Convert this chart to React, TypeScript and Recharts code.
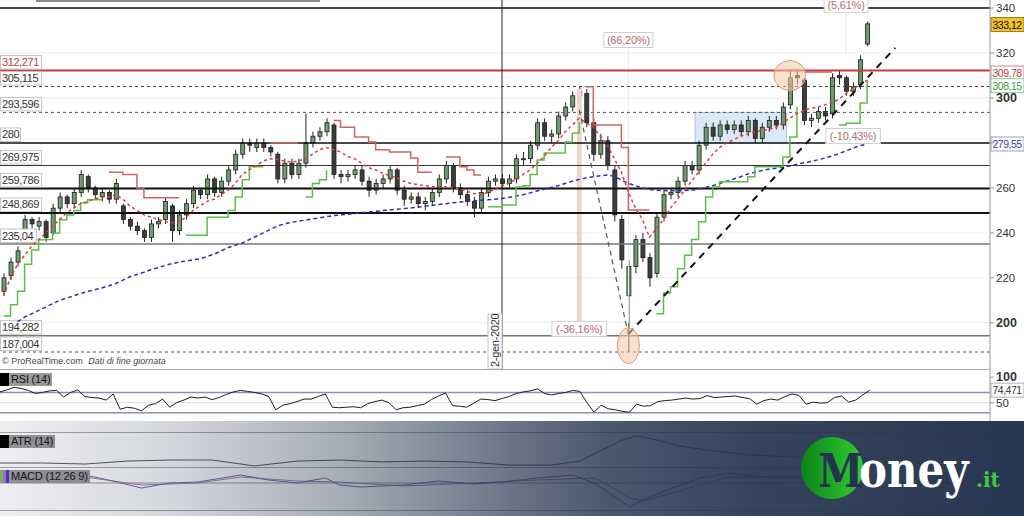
import React from 'react';
import {
  ComposedChart,
  LineChart,
  Line,
  Bar,
  XAxis,
  YAxis,
  CartesianGrid,
  ReferenceLine,
  ReferenceArea,
  ReferenceDot,
} from 'recharts';

const FONT = "'Liberation Sans', Arial, sans-serif";
const N = null;

// ---------- price data (daily-ish candles, compressed) ----------
const openP = [
  214, 221, 227, 240, 246, 243, 245, 240, 251, 256,
  253, 258, 265, 260, 256, 258, 255, 252, 246, 243,
  241, 238, 244, 246, 252, 241, 248, 253, 259, 257,
  264, 258, 263, 268, 275, 280, 278, 280, 278, 275,
  264, 271, 266, 271, 280, 283, 285, 288, 266, 265,
  266, 268, 263, 259, 262, 264, 268, 259, 255, 256,
  253, 254, 258, 264, 270, 260, 257, 254, 251, 258,
  263, 264, 262, 264, 273, 273, 279, 289, 283, 284,
  292, 296, 301, 302, 289, 275, 281, 268, 246, 212,
  225, 237, 229, 222, 247, 257, 258, 263, 270, 268,
  279, 287, 283, 288, 286, 288, 285, 290, 282, 287,
  290, 288, 297, 310, 308, 290, 291, 294, 293, 310,
  309, 303, 306, 324,
];
const closeP = [
  220, 227, 232, 246, 244, 245, 238, 251, 256, 253,
  258, 266, 260, 257, 258, 255, 262, 246, 243, 241,
  238, 244, 245, 254, 241, 248, 253, 259, 257, 264,
  258, 263, 268, 275, 280, 279, 280, 278, 276, 264,
  271, 266, 271, 280, 283, 285, 289, 266, 265, 266,
  268, 263, 259, 262, 264, 268, 259, 255, 256, 253,
  254, 258, 264, 270, 260, 257, 254, 251, 258, 263,
  264, 262, 264, 273, 273, 279, 289, 283, 284, 292,
  296, 301, 303, 289, 275, 281, 270, 248, 228, 225,
  237, 229, 220, 247, 257, 258, 263, 270, 268, 279,
  287, 283, 288, 286, 288, 285, 290, 282, 287, 290,
  288, 296, 309, 309, 290, 291, 294, 292, 309, 309,
  303, 305, 317, 333,
];
const highP = [
  222, 229, 234, 248, 247, 247, 246, 253, 258, 257,
  260, 268, 266, 261, 260, 259, 264, 253, 247, 245,
  242, 246, 247, 256, 253, 250, 255, 261, 260, 266,
  265, 265, 270, 277, 282, 282, 282, 282, 279, 276,
  273, 273, 273, 293, 285, 287, 291, 289, 268, 268,
  270, 270, 265, 264, 266, 270, 269, 261, 258, 258,
  256, 260, 266, 272, 271, 262, 259, 256, 260, 265,
  266, 266, 266, 275, 276, 281, 291, 291, 286, 294,
  298, 303, 305, 304, 291, 284, 283, 270, 248, 228,
  239, 240, 231, 249, 259, 260, 265, 272, 272, 281,
  289, 289, 290, 290, 290, 290, 292, 291, 289, 292,
  292, 298, 312, 312, 309, 293, 296, 296, 311, 312,
  310, 307, 319, 334,
];
const lowP = [
  212, 219, 225, 238, 242, 241, 236, 239, 249, 251,
  251, 256, 258, 255, 254, 253, 253, 244, 241, 239,
  236, 236, 242, 244, 236, 239, 246, 251, 255, 255,
  256, 256, 261, 266, 273, 276, 276, 276, 274, 262,
  262, 264, 264, 269, 278, 281, 283, 264, 262, 263,
  264, 261, 256, 257, 260, 262, 257, 252, 253, 251,
  250, 252, 256, 262, 258, 255, 252, 247, 249, 256,
  261, 260, 260, 262, 270, 271, 277, 281, 280, 282,
  290, 294, 299, 287, 272, 273, 268, 245, 224, 187,
  222, 227, 216, 220, 245, 255, 256, 261, 266, 266,
  277, 281, 281, 284, 284, 283, 283, 280, 280, 285,
  286, 286, 295, 306, 288, 287, 289, 290, 291, 306,
  301, 301, 304, 323,
];

// short moving average (red dotted)
const ma20 = [
  212, 220, 226, 230, 234, 237, 240, 243, 246, 249,
  251, 253, 254, 255, 256, 256, 257, 255, 252, 250,
  248, 247, 246, 245, 244.5, 245, 247, 250, 252, 254,
  255, 257, 259, 262, 266, 268, 270, 272, 273, 272.5,
  272, 271.5, 272, 273, 275, 277, 278, 277, 276, 274,
  273, 271, 269, 268, 266.5, 265.5, 264.5, 263, 262, 261.5,
  261, 260.5, 260.5, 260.5, 260, 259.5, 258.5, 257.5, 257, 258,
  259.5, 261, 262, 264, 266, 268, 271, 274, 278, 281,
  285, 288, 291, 289, 287, 283, 279, 273, 267, 258,
  251, 246, 238, 242, 246, 251, 255, 259, 263, 267,
  271, 275, 278, 280, 281.5, 283, 284, 285, 285.5, 286,
  287, 289, 291, 293, 294.5, 295.5, 296, 297, 298, 299.5,
  302, 304, 306, 308,
];

// long moving average (blue dotted)
const ma200 = [
  N, N, 200.5, 202.5, 204, 205.5, 207, 208.5, 210, 211,
  212, 213, 214, 214.7, 215.5, 216.5, 217.5, 219, 220.5, 221.5,
  222.5, 223.6, 224.5, 225.5, 226.3, 227, 227.5, 228, 228.5, 229.5,
  230.5, 232, 233.5, 234.5, 235.5, 237, 238.5, 240, 241.5, 243,
  244, 244.7, 245.2, 245.7, 246.2, 246.7, 247.2, 247.7, 248, 248.3,
  248.6, 249, 249.3, 249.6, 249.9, 250.2, 250.5, 250.8, 251.1, 251.5,
  251.8, 252.2, 252.6, 253, 253.4, 253.7, 254, 254.3, 254.5, 254.7,
  255, 255.3, 255.8, 256.4, 257, 257.8, 258.6, 259.4, 260.2, 261,
  262, 263, 263.8, 264.5, 265, 265.4, 265.8, 265.2, 263.5, 262,
  261, 260, 259.3, 259, 258.8, 258.7, 258.7, 258.8, 259, 259.5,
  260.2, 261, 262, 263, 264, 265, 266.2, 267, 267.7, 268.3,
  268.8, 269.3, 269.8, 270.5, 271.2, 271.8, 272.5, 273.3, 274.2, 275.3,
  276.5, 277.7, 278.8, 279.55,
];

// upper trailing stop (red step)
const redStop = [
  N, N, N, N, N, N, N, N, N, N,
  N, N, N, N, N, 267, 267, 266, 266, 260,
  255.6, 255.6, 255.6, 255.6, 255.6, 255.6, N, N, N, N,
  N, N, N, N, N, N, N, N, 280, 280,
  280, 280, 280, N, N, N, N, 290, 287, 287,
  282.7, 282.7, 280.4, 277, 277, 276, 276, 276, 273.3, 267,
  267, 267, N, 273.8, 273.8, 269.4, 268, 265.8, 265.8, N,
  N, N, N, N, N, N, N, N, N, N,
  N, N, N, 305, 288, 288, 288, 288, 278, 250.2,
  250.2, 250.2, 250.2, N, N, N, N, N, N, N,
  N, N, N, N, N, N, N, N, N, N,
  N, N, N, N, 311.6, 311.6, 311.6, 311.6, 311.6, N,
  N, N, N, N,
];

// lower trailing stop (green step)
const greenStop = [
  203, 208, 214, 226, 232.4, 236.9, 237, 240, 245.8, 248,
  250, 253.3, 254.7, 254.7, 254.7, N, N, N, N, N,
  N, N, N, N, N, N, 239, 239, 239, 247,
  247, 247, 250, 256, 263.6, 269.4, 269.4, 269.4, N, N,
  N, N, N, 256, 262, 263.6, 268, N, N, N,
  N, N, N, N, N, N, N, N, N, N,
  N, N, N, N, N, N, N, N, N, 251.6,
  251.6, 252.4, 252.4, 260.4, 261, 266, 272.4, 275.5, 275.5, 275.5,
  280.4, 284.4, 289.3, N, N, N, N, N, N, N,
  N, N, N, 204, 213.3, 216, 224, 230, 237, 245,
  256, 260.4, 262.7, 262.7, 262.7, 262.7, 265, 269.4, 269.4, 269.4,
  269.4, 273.8, 282.7, 296, N, N, N, N, N, 288,
  288.8, 288.8, 297.8, 308.15,
];

// RSI (14)
const rsi14 = [
  71, 75, 80, 78, 74, 68, 70, 73, 74, 61,
  70, 75, 62, 60, 59, 55, 67, 37, 41, 39,
  34, 45, 48, 57, 41, 50, 55, 61, 59, 61,
  56, 60, 66, 71, 74, 72, 70, 67, 62, 36,
  45, 48, 52, 57, 57, 62, 67, 41, 40, 41,
  42, 40, 48, 52, 55, 50, 36, 40, 41, 44,
  47, 56, 63, 69, 44, 43, 41, 49, 57, 56,
  54, 58, 62, 68, 71, 73, 77, 68, 65, 68,
  70, 74, 72, 50, 31, 45, 38, 36, 33, 31,
  47, 43, 44, 52, 54, 55, 57, 59, 57, 58,
  64, 60, 61, 62, 63, 60, 58, 47, 54, 57,
  55, 62, 67, 64, 47, 51, 49, 50, 60, 63,
  51, 55, 65, 74.5,
];

// ATR (14) and MACD readings at selected bars: [bar, value]
const atrPts = [
  [0, 4.3], [6, 4.3], [12, 3.7], [18, 5.4], [24, 6], [30, 6], [36, 2.6], [42, 5.4],
  [48, 6], [54, 4.9], [60, 5.4], [66, 4.9], [72, 3.1], [78, 3.1], [82, 5.4], [86, 13.4],
  [88, 17.4], [90, 19.7], [93, 17.4], [96, 14], [100, 11.7], [106, 8.9], [112, 7.7],
  [118, 6.6], [123, 7.1],
];
const macdPts = [
  [0, 6], [6, 5], [12, 8], [16, 2], [20, -5], [24, 0], [28, 1], [34, 8], [38, 3], [42, 0],
  [46, 5], [48, -2], [51, -4], [57, -2], [62, 2], [67, -1], [71, 1], [76, 5], [81, 8],
  [84, 0], [87, -14], [89, -24], [91, -17], [95, -5], [99, 5], [103, 10], [108, 6],
  [113, 5], [118, 6], [123, 8],
];
const signalPts = [
  [0, 5], [12, 6], [20, -2], [28, 0], [34, 6], [42, 2], [48, 1], [57, -3], [67, 0],
  [76, 3], [84, 5], [87, -6], [89, -15], [91, -18], [95, -10], [99, -2], [103, 6],
  [113, 6], [123, 7],
];

// horizontal levels
const levelValues = [340, 312.271, 305.115, 293.596, 280, 269.975, 259.786, 248.869, 235.04, 194.282, 187.004];
const levelLabels = ['', '312,271', '305,115', '293,596', '280', '269,975', '259,786', '248,869', '235,04', '194,282', '187,004'];

// right-hand value tags
const tagValues = [333.12, 309.78, 308.15, 279.55];
const tagLabels = ['333,12', '309,78', '308,15', '279,55'];

// percentage annotations [bar, price]
const pctLabels = ['(66,20%)', '(-36,16%)', '(5,61%)', '(-10,43%)'];
const pctBars = [89, 82, 120, 121];
const pctPrices = [325.8, 197.3, 341.3, 283.1];

const priceTicks = [200, 220, 240, 260, 280, 300, 320, 340];
const SLOTS = 141;

// ---------- build table ----------
const data: any[] = Array.from({ length: SLOTS }, (_, i) => {
  const row: any = { idx: i };
  if (i < closeP.length) {
    row.open = openP[i];
    row.close = closeP[i];
    row.high = highP[i];
    row.low = lowP[i];
    row.range = [lowP[i], highP[i]];
    row.ma = ma20[i];
    row.ma200 = ma200[i];
    row.rstop = redStop[i];
    row.gstop = greenStop[i];
    row.rsi = rsi14[i];
  }
  return row;
});
atrPts.forEach(([i, v]) => (data[i].atr = v));
macdPts.forEach(([i, v]) => (data[i].macd = v));
signalPts.forEach(([i, v]) => (data[i].sig = v));

// ---------- styles for levels ----------
const levelStyle = [
  { stroke: '#111', w: 1.5, dash: undefined, color: '#333' },
  { stroke: '#c83a3a', w: 2, dash: undefined, color: '#c83a3a' },
  { stroke: '#444', w: 1, dash: '3 3', color: '#333' },
  { stroke: '#555', w: 1, dash: '3 3', color: '#333' },
  { stroke: '#111', w: 1.5, dash: undefined, color: '#333' },
  { stroke: '#333', w: 1.2, dash: undefined, color: '#333' },
  { stroke: '#111', w: 2, dash: undefined, color: '#333' },
  { stroke: '#111', w: 2, dash: undefined, color: '#333' },
  { stroke: '#777', w: 1.5, dash: undefined, color: '#333' },
  { stroke: '#777', w: 1.5, dash: undefined, color: '#333' },
  { stroke: '#555', w: 1, dash: '3 3', color: '#333' },
];
const tagStyle = [
  { bg: '#f1c232', border: '#9a7a10', color: '#111', dy: 1 },
  { bg: '#fff', border: '#d28a8a', color: '#c03c3c', dy: -3 },
  { bg: '#fff', border: '#8cc88c', color: '#3c9c3c', dy: 6 },
  { bg: '#fff', border: '#9a9ad6', color: '#3a3aa8', dy: 0 },
];

// ---------- renderers ----------
const Candle = (props: any) => {
  const { x, y, width, height, payload } = props;
  if (!payload || payload.high == null || !isFinite(y) || !isFinite(height)) return <g />;
  const { open, close, high, low } = payload;
  const top = Math.min(y, y + height);
  const h = Math.abs(height);
  const ppu = h / (high - low || 1);
  const yO = top + (high - open) * ppu;
  const yC = top + (high - close) * ppu;
  const cx = x + width / 2;
  const up = close >= open;
  const bw = 4;
  return (
    <g>
      <line x1={cx} x2={cx} y1={top} y2={top + h} stroke="#222" strokeWidth={1} />
      <rect
        x={cx - bw / 2}
        y={Math.min(yO, yC)}
        width={bw}
        height={Math.max(1, Math.abs(yC - yO))}
        fill={up ? '#6b9f6b' : '#3d3d3d'}
        stroke="#1c1c1c"
        strokeWidth={0.8}
      />
    </g>
  );
};

const leftLabel = (text: string, color: string) => (props: any) => {
  const vb = props.viewBox;
  if (!vb || !text) return <g />;
  const w = text.length * 5.3 + 4;
  return (
    <g>
      <rect x={0.5} y={vb.y - 15} width={w} height={13.5} fill="#fff" stroke="#c4c4c4" strokeWidth={1} />
      <text x={2} y={vb.y - 4.5} fontSize={11} letterSpacing={-0.4} fill={color} fontFamily={FONT}>
        {text}
      </text>
    </g>
  );
};

const rightTag = (text: string, st: any) => (props: any) => {
  const vb = props.viewBox;
  if (!vb) return <g />;
  const x = vb.x + vb.width + 1;
  const y = vb.y + st.dy;
  return (
    <g>
      <rect x={x} y={y - 7} width={33} height={14} fill={st.bg} stroke={st.border} strokeWidth={1} />
      <text x={x + 1.5} y={y + 4} fontSize={10.5} letterSpacing={-0.5} fill={st.color} fontFamily={FONT}>
        {text}
      </text>
    </g>
  );
};

const pctLabel = (text: string) => (props: any) => {
  const vb = props.viewBox;
  if (!vb) return <g />;
  const cx = vb.x + vb.width / 2;
  const cy = vb.y + vb.height / 2;
  const w = text.length * 5.4 + 6;
  return (
    <g>
      <rect x={cx - w / 2} y={cy - 7.5} width={w} height={15} fill="#fff" stroke="#d0d0d0" strokeWidth={1} />
      <text x={cx} y={cy + 4} textAnchor="middle" fontSize={11} letterSpacing={-0.2} fill="#b46c6c" fontFamily={FONT}>
        {text}
      </text>
    </g>
  );
};

const dateLabel = (props: any) => {
  const vb = props.viewBox;
  if (!vb) return <g />;
  const x = vb.x;
  return (
    <g>
      <rect x={x - 14} y={314} width={14} height={55} fill="#fff" stroke="#c4c4c4" strokeWidth={1} />
      <text
        x={x - 3.5}
        y={367}
        transform={`rotate(-90 ${x - 3.5} 367)`}
        fontSize={11}
        letterSpacing={-0.3}
        fill="#333"
        fontFamily={FONT}
      >
        2-gen-2020
      </text>
    </g>
  );
};

const PriceTick = (p: any) => {
  const v = p.payload?.value;
  if (v === 280) return <g />;
  const bold = v === 300 || v === 200;
  return (
    <text x={p.x} y={p.y + 4} fontSize={bold ? 12.5 : 11.5} fontWeight={bold ? 700 : 400} fill="#333" fontFamily={FONT}>
      {v}
    </text>
  );
};

const RsiTick = (p: any) => {
  const v = p.payload?.value;
  const bold = v === 100;
  return (
    <text x={p.x} y={p.y + 4} fontSize={bold ? 12.5 : 11.5} fontWeight={bold ? 700 : 400} fill="#333" fontFamily={FONT}>
      {v}
    </text>
  );
};

const ellipseShape = (rx: number, ry: number) => (p: any) => (
  <ellipse cx={p.cx} cy={p.cy} rx={rx} ry={ry} fill="#f6c9a8" fillOpacity={0.55} stroke="#e69a70" strokeWidth={1} />
);

const tagBox = (text: string, minW: number, squares: string[]) => (
  <div
    style={{
      display: 'inline-flex',
      alignItems: 'center',
      height: 13,
      minWidth: minW,
      paddingRight: 2,
      boxSizing: 'border-box',
      background: '#9a9a9a',
      fontSize: 11,
      color: '#111',
      fontFamily: FONT,
      lineHeight: '13px',
      whiteSpace: 'nowrap',
    }}
  >
    {squares.map((c, k) => (
      <span
        key={k}
        style={{ display: 'inline-block', flex: 'none', width: squares.length > 1 ? 3 : 9, height: 13, background: c }}
      />
    ))}
    <span style={{ marginLeft: 2, letterSpacing: -0.2, whiteSpace: 'nowrap' }}>{text}</span>
  </div>
);

const lineCommon = { dot: false, activeDot: false, isAnimationActive: false, legendType: 'none' as const };

export default function App() {
  return (
    <div
      style={{
        position: 'absolute',
        left: 0,
        top: 0,
        width: 1024,
        height: 516,
        overflow: 'hidden',
        background: '#fff',
        fontFamily: FONT,
      }}
    >
      <style>{'body{margin:0}'}</style>

      {/* main price panel */}
      <div style={{ position: 'absolute', left: 0, top: 0 }}>
        <ComposedChart width={1024} height={370} data={data} margin={{ top: 0, right: 0, bottom: 0, left: 0 }}>
          <CartesianGrid vertical={false} stroke="#ececec" />
          <XAxis dataKey="idx" type="category" hide />
          <YAxis
            orientation="right"
            width={34}
            domain={[179, 343.6]}
            ticks={priceTicks}
            interval={0}
            allowDataOverflow
            axisLine={{ stroke: '#9a9a9a' }}
            tickLine={{ stroke: '#9a9a9a' }}
            tickSize={4}
            tick={PriceTick}
          />
          <ReferenceArea x1={99} x2={111} y1={280} y2={293.6} fill="#cfe0f6" fillOpacity={0.75} stroke="#a9c3e6" strokeWidth={1} />
          <ReferenceLine segment={[{ x: 82, y: 304 }, { x: 82, y: 198 }]} stroke="#f4d2d2" strokeWidth={5} />
          <ReferenceLine segment={[{ x: 89, y: 324 }, { x: 89, y: 200 }]} stroke="#ececec" strokeWidth={1} />
          <ReferenceLine segment={[{ x: 120, y: 340 }, { x: 120, y: 320 }]} stroke="#e6e6e6" strokeWidth={1} />
          {levelValues.map((v, k) => (
            <ReferenceLine
              key={'lv' + k}
              y={v}
              stroke={levelStyle[k].stroke}
              strokeWidth={levelStyle[k].w}
              strokeDasharray={levelStyle[k].dash}
              label={leftLabel(levelLabels[k], levelStyle[k].color)}
            />
          ))}
          <ReferenceLine x={71} stroke="#222" strokeWidth={1} label={dateLabel} />
          <ReferenceDot x={112} y={310} r={1} ifOverflow="visible" shape={ellipseShape(16, 15)} />
          <ReferenceDot x={89} y={189.8} r={1} ifOverflow="visible" shape={ellipseShape(11, 18)} />
          <Line dataKey="ma200" stroke="#2f2fb0" strokeWidth={1.5} strokeDasharray="4 3" {...lineCommon} />
          <Line dataKey="rstop" type="stepAfter" stroke="#cf6363" strokeWidth={1.5} {...lineCommon} />
          <Line dataKey="gstop" type="stepAfter" stroke="#5cbf48" strokeWidth={1.5} {...lineCommon} />
          <Line dataKey="ma" stroke="#dd3b3b" strokeWidth={1.5} strokeDasharray="3 3" {...lineCommon} />
          <ReferenceLine segment={[{ x: 82, y: 294.7 }, { x: 89, y: 194.7 }]} stroke="#555" strokeWidth={1.2} strokeDasharray="5 4" />
          <Bar dataKey="range" barSize={4} shape={Candle} isAnimationActive={false} legendType="none" />
          <ReferenceLine segment={[{ x: 89, y: 195 }, { x: 127, y: 322.3 }]} stroke="#111" strokeWidth={2} strokeDasharray="7 6" />
          {pctLabels.map((t, k) => (
            <ReferenceDot
              key={'pc' + k}
              x={pctBars[k]}
              y={pctPrices[k]}
              r={1}
              fill="none"
              stroke="none"
              ifOverflow="visible"
              label={pctLabel(t)}
            />
          ))}
          {tagValues.map((v, k) => (
            <ReferenceLine key={'tg' + k} y={v} stroke="none" label={rightTag(tagLabels[k], tagStyle[k])} />
          ))}
        </ComposedChart>
      </div>

      {/* top toolbar remnant */}
      <div style={{ position: 'absolute', left: 36, top: 0, width: 284, height: 2, background: '#8a8a8a' }} />
      <div style={{ position: 'absolute', left: 0, top: 369, width: 990, height: 1, background: '#a8a8a8' }} />
      <div
        style={{
          position: 'absolute',
          left: 2,
          top: 356,
          fontSize: 9,
          color: '#444',
          fontFamily: FONT,
          whiteSpace: 'nowrap',
        }}
      >
        © ProRealTime.com <i style={{ marginLeft: 3 }}>Dati di fine giornata</i>
      </div>

      {/* RSI panel */}
      <div style={{ position: 'absolute', left: 0, top: 370 }}>
        <LineChart width={1024} height={51} data={data} margin={{ top: 0, right: 0, bottom: 0, left: 0 }}>
          <XAxis dataKey="idx" type="category" hide />
          <YAxis
            orientation="right"
            width={34}
            domain={[14, 114]}
            ticks={[50, 100]}
            interval={0}
            allowDataOverflow
            axisLine={{ stroke: '#9a9a9a' }}
            tickLine={{ stroke: '#9a9a9a' }}
            tickSize={4}
            tick={RsiTick}
          />
          <ReferenceLine y={50} stroke="#dcdcf0" strokeWidth={1} />
          <ReferenceLine y={70} stroke="#8d8dbd" strokeWidth={1.5} />
          <ReferenceLine y={30} stroke="#8d8dbd" strokeWidth={1.5} />
          <Line dataKey="rsi" stroke="#1e1e1e" strokeWidth={1} {...lineCommon} />
          <ReferenceLine
            y={74.471}
            stroke="none"
            label={rightTag('74,471', { bg: '#fff', border: '#b0b0b0', color: '#333', dy: 0 })}
          />
        </LineChart>
      </div>
      <div style={{ position: 'absolute', left: 0, top: 372 }}>{tagBox('RSI (14)', 49, ['#000'])}</div>

      {/* ATR / MACD panels (under the banner) */}
      <div style={{ position: 'absolute', left: 0, top: 421 }}>
        <ComposedChart width={1024} height={95} data={data} margin={{ top: 0, right: 34, bottom: 0, left: 0 }}>
          <XAxis dataKey="idx" type="category" hide />
          <YAxis yAxisId="atr" hide domain={[-26, 28.3]} allowDataOverflow />
          <YAxis yAxisId="macd" hide domain={[-33, 62]} allowDataOverflow />
          <ReferenceLine yAxisId="macd" y={0} stroke="#9a9a9a" strokeWidth={1} />
          <Line yAxisId="atr" dataKey="atr" connectNulls stroke="#555" strokeWidth={1} {...lineCommon} />
          <Line yAxisId="macd" dataKey="sig" connectNulls stroke="#b07aa6" strokeWidth={1} {...lineCommon} />
          <Line yAxisId="macd" dataKey="macd" connectNulls stroke="#6a6ab0" strokeWidth={1} {...lineCommon} />
        </ComposedChart>
      </div>
      <div style={{ position: 'absolute', left: 0, top: 432, width: 1024, height: 1, background: '#aaa' }} />
      <div style={{ position: 'absolute', left: 0, top: 467, width: 1024, height: 1, background: '#aaa' }} />
      <div style={{ position: 'absolute', left: 0, top: 510, width: 1024, height: 1, background: '#aaa' }} />
      <div style={{ position: 'absolute', left: 0, top: 434 }}>{tagBox('ATR (14)', 52, ['#000'])}</div>
      <div style={{ position: 'absolute', left: 0, top: 469 }}>
        {tagBox('MACD (12 26 9)', 84, ['#66cc55', '#cc66cc', '#3344cc'])}
      </div>

      {/* banner overlay */}
      <div
        style={{
          position: 'absolute',
          left: 0,
          top: 421,
          width: 1024,
          height: 95,
          background:
            'linear-gradient(to right, rgba(36,51,78,0.08) 0%, rgba(36,51,78,0.2) 17%, rgba(36,51,78,0.4) 33%, rgba(36,51,78,0.68) 50%, rgba(36,51,78,0.82) 59%, rgba(36,51,78,0.92) 74%, rgba(36,51,78,0.98) 100%)',
        }}
      />
      <svg width={1024} height={516} style={{ position: 'absolute', left: 0, top: 0, pointerEvents: 'none' }}>
        <defs>
          <linearGradient id="logoG" x1="0" y1="0" x2="1" y2="0">
            <stop offset="0%" stopColor="#0a8418" />
            <stop offset="100%" stopColor="#33cc33" />
          </linearGradient>
        </defs>
        <circle cx={832} cy={468} r={31} fill="url(#logoG)" />
        <text
          x={818}
          y={487}
          fontFamily="'DejaVu Serif', serif"
          fontWeight={700}
          fontSize={41}
          fill="#24334e"
          transform="translate(0 487) scale(1 1.12) translate(0 -487)"
        >
          M
        </text>
        <text
          x={859}
          y={487}
          fontFamily="'DejaVu Serif', serif"
          fontWeight={700}
          fontSize={42}
          fill="#ffffff"
          transform="translate(0 487) scale(1 1.2) translate(0 -487)"
        >
          oney
        </text>
        <text x={976} y={487} fontFamily="'DejaVu Serif', serif" fontWeight={700} fontSize={20} fill="#3ccc3c">
          .it
        </text>
      </svg>
    </div>
  );
}
